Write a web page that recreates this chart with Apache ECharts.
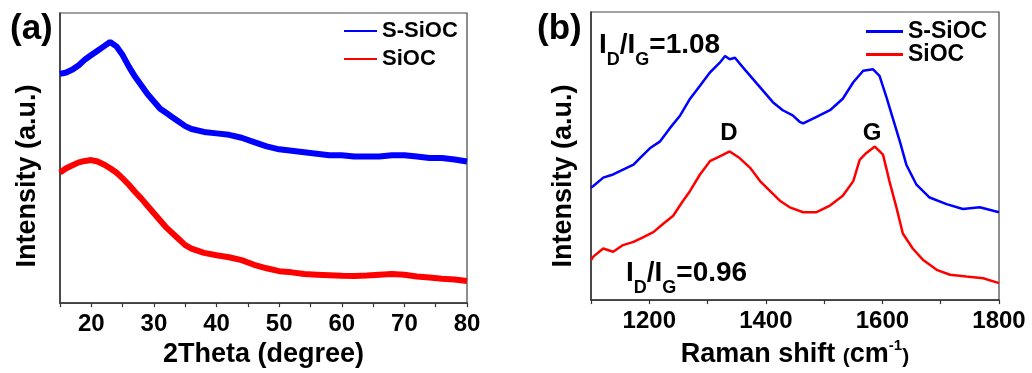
<!DOCTYPE html>
<html>
<head>
<meta charset="utf-8">
<script src="https://cdn.jsdelivr.net/npm/echarts@6/dist/echarts.min.js"></script>
<style>
html,body{margin:0;padding:0;background:#fff;}
#chart{width:1032px;height:373px;}
</style>
</head>
<body>
<div id="chart"></div>
<script>
// ---- Data (arbitrary intensity units) ----
var xrdX = [15,16,17,18,19,20,21,22,23,24,25,26,27,28,29,30,31,32,33,34,35,36,38,40,42,44,46,48,50,52,54,56,58,60,62,64,66,68,70,72,74,76,78,80];
var xrdSSiOC = [79,79.5,80.5,82,84,85.5,87,88.5,90,88.5,85.5,81.5,78,75,72,69.5,67,65.5,64,62.5,61,60,59,58.5,58,57,55.5,54,53,52.5,52,51.5,51,51,50.5,50.5,50.5,51,51,50.5,50,50,49.5,48.8];
var xrdSiOC = [45,46.5,47.5,48.5,49,49.3,48.8,47.8,46.5,45,43,40.8,38.3,36,33.5,31,28.5,26,24,22,20,18.8,17.3,16.5,15.8,14.8,13.2,12,11,10.6,10,9.8,9.6,9.4,9.3,9.5,9.8,10,9.8,9.2,8.8,8.4,8.1,7.6];

var ramanSSiOCX = [1100,1104,1121,1138,1155,1173,1184,1201,1218,1235,1253,1270,1287,1304,1321,1330,1338,1347,1361,1378,1395,1412,1429,1446,1458,1464,1487,1510,1532,1550,1567,1584,1595,1607,1618,1630,1641,1658,1681,1710,1738,1767,1800];
var ramanSSiOCY = [39,39.6,42.5,43.6,45.3,47,49.3,52.7,55,59.6,64.1,69.9,74.4,79,82.4,84.7,83.6,84.1,80.7,76.7,72.7,68.7,65.9,64.1,61.9,61.3,63.6,65.9,69.9,75.6,79.6,80.1,77.8,70.4,63,55,47,40.2,35.6,33.3,31.6,32.2,30.5];
var ramanSiOCX = [1100,1104,1121,1138,1155,1173,1190,1207,1224,1241,1258,1270,1287,1304,1321,1338,1355,1373,1390,1407,1424,1441,1464,1487,1510,1532,1550,1561,1572,1587,1601,1612,1624,1635,1652,1670,1693,1716,1744,1773,1800];
var ramanSiOCY = [13.9,15.1,17.9,16.8,19.1,20.2,21.9,23.6,26.5,29.3,34.5,37.9,43.6,48.2,49.9,51.6,49.3,45.9,41.3,37.9,34.5,32.2,30.5,30.5,32.8,36.2,41.3,48.7,51,53.3,50.5,41.3,32.2,23.1,17.9,13.9,10.5,8.8,8.2,7.6,5.9];

var seriesNames = ['S-SiOC', 'SiOC'];
var xrdTicks = {min: 15, max: 80, interval: 5};
var ramanTicks = {min: 1100, max: 1800, interval: 100};

function pairs(xs, ys) { return xs.map(function (x, i) { return [x, ys[i]]; }); }

var FONT = 'Liberation Sans, Arial, sans-serif';
var BLUE = '#0000ff', RED = '#ff0000';
var chart = echarts.init(document.getElementById('chart'));

function xAxisCfg(gi, t, labelStep, name, rich, gap) {
  return {
    type: 'value', gridIndex: gi, min: t.min, max: t.max, interval: t.interval,
    axisLine: {show: true, lineStyle: {color: '#333', width: 1.5}},
    axisTick: {show: true, length: 4, inside: false, lineStyle: {color: '#333', width: 1.2}},
    splitLine: {show: false},
    axisLabel: {
      margin: 9, color: '#000', fontSize: 24, fontWeight: 'bold', fontFamily: FONT,
      formatter: function (v) { return (v % labelStep === 0) ? String(v) : ''; },
      showMinLabel: true, showMaxLabel: true
    },
    name: name, nameLocation: 'middle', nameGap: gap,
    nameTextStyle: {color: '#000', fontSize: 27, fontWeight: 'bold', fontFamily: FONT, rich: rich}
  };
}
function yAxisCfg(gi) {
  return {
    type: 'value', gridIndex: gi, min: 0, max: 100,
    axisLine: {show: true, lineStyle: {color: '#333', width: 1.5}},
    axisTick: {show: false}, axisLabel: {show: false}, splitLine: {show: false}
  };
}

var ramanRich = {
  t: {fontSize: 27, fontWeight: 'bold', fontFamily: FONT, color: '#000', lineHeight: 30, verticalAlign: 'bottom'},
  p: {fontSize: 21, fontFamily: FONT, color: '#000', lineHeight: 30, verticalAlign: 'bottom'},
  sup: {fontSize: 15, fontWeight: 'bold', fontFamily: FONT, color: '#000', lineHeight: 14, verticalAlign: 'top'}
};

var ratioRich = {
  m: {fontSize: 28, fontWeight: 'bold', fontFamily: FONT, color: '#000', lineHeight: 28, verticalAlign: 'top'},
  s: {fontSize: 18, fontWeight: 'bold', fontFamily: FONT, color: '#000', lineHeight: 38, verticalAlign: 'bottom'}
};

var option = {
  animation: false,
  backgroundColor: '#fff',
  grid: [
    {left: 60, top: 13, width: 407, height: 291, show: true, borderColor: '#444', borderWidth: 1.2, backgroundColor: 'transparent'},
    {left: 591, top: 12, width: 408, height: 292, show: true, borderColor: '#444', borderWidth: 1.2, backgroundColor: 'transparent'}
  ],
  xAxis: [
    xAxisCfg(0, xrdTicks, 10, '2Theta (degree)', null, 36),
    xAxisCfg(1, ramanTicks, 200, '{t|Raman shift }{p|(}{t|cm}{sup|-1}{p|)}', ramanRich, 37)
  ],
  yAxis: [yAxisCfg(0), yAxisCfg(1)],
  legend: [
    {
      orient: 'vertical', left: 344, top: 20, padding: 0, icon: 'rect',
      itemWidth: 33, itemHeight: 2, itemGap: 6, selectedMode: false,
      textStyle: {fontSize: 22, fontWeight: 'bold', color: '#000', fontFamily: FONT},
      data: seriesNames
    },
    {
      orient: 'vertical', left: 866, top: 20, padding: 0, icon: 'rect',
      itemWidth: 37, itemHeight: 3, itemGap: 0, selectedMode: false,
      textStyle: {fontSize: 23, lineHeight: 22, fontWeight: 'bold', color: '#000', fontFamily: FONT},
      data: seriesNames
    }
  ],
  series: [
    {name: seriesNames[0], type: 'line', xAxisIndex: 0, yAxisIndex: 0, data: pairs(xrdX, xrdSSiOC),
      showSymbol: false, lineStyle: {color: BLUE, width: 6}, itemStyle: {color: BLUE}},
    {name: seriesNames[1], type: 'line', xAxisIndex: 0, yAxisIndex: 0, data: pairs(xrdX, xrdSiOC),
      showSymbol: false, lineStyle: {color: RED, width: 6}, itemStyle: {color: RED}},
    {name: seriesNames[0], type: 'line', xAxisIndex: 1, yAxisIndex: 1, data: pairs(ramanSSiOCX, ramanSSiOCY),
      showSymbol: false, lineStyle: {color: BLUE, width: 2.5}, itemStyle: {color: BLUE}},
    {name: seriesNames[1], type: 'line', xAxisIndex: 1, yAxisIndex: 1, data: pairs(ramanSiOCX, ramanSiOCY),
      showSymbol: false, lineStyle: {color: RED, width: 2.5}, itemStyle: {color: RED}}
  ],
  graphic: [
    {type: 'text', left: 10, top: 12, style: {text: '(a)', fontSize: 35, fontWeight: 'bold', fontFamily: FONT, fill: '#000'}},
    {type: 'text', left: 537, top: 12, style: {text: '(b)', fontSize: 35, fontWeight: 'bold', fontFamily: FONT, fill: '#000'}},
    {type: 'text', x: 28, y: 176, rotation: Math.PI / 2,
      style: {text: 'Intensity (a.u.)', fontSize: 27, fontWeight: 'bold', fontFamily: FONT, fill: '#000', align: 'center', verticalAlign: 'middle'}},
    {type: 'text', x: 564, y: 176, rotation: Math.PI / 2,
      style: {text: 'Intensity (a.u.)', fontSize: 27, fontWeight: 'bold', fontFamily: FONT, fill: '#000', align: 'center', verticalAlign: 'middle'}},
    {type: 'text', x: 729, y: 133,
      style: {text: 'D', fontSize: 24, fontWeight: 'bold', fontFamily: FONT, fill: '#000', align: 'center', verticalAlign: 'middle'}},
    {type: 'text', x: 872, y: 133,
      style: {text: 'G', fontSize: 24, fontWeight: 'bold', fontFamily: FONT, fill: '#000', align: 'center', verticalAlign: 'middle'}},
    {type: 'text', x: 599, y: 31,
      style: {text: '{m|I}{s|D}{m|/I}{s|G}{m|=1.08}', rich: ratioRich, fill: '#000', align: 'left', verticalAlign: 'top'}},
    {type: 'text', x: 626, y: 259,
      style: {text: '{m|I}{s|D}{m|/I}{s|G}{m|=0.96}', rich: ratioRich, fill: '#000', align: 'left', verticalAlign: 'top'}}
  ]
};
chart.setOption(option);
</script>
</body>
</html>
